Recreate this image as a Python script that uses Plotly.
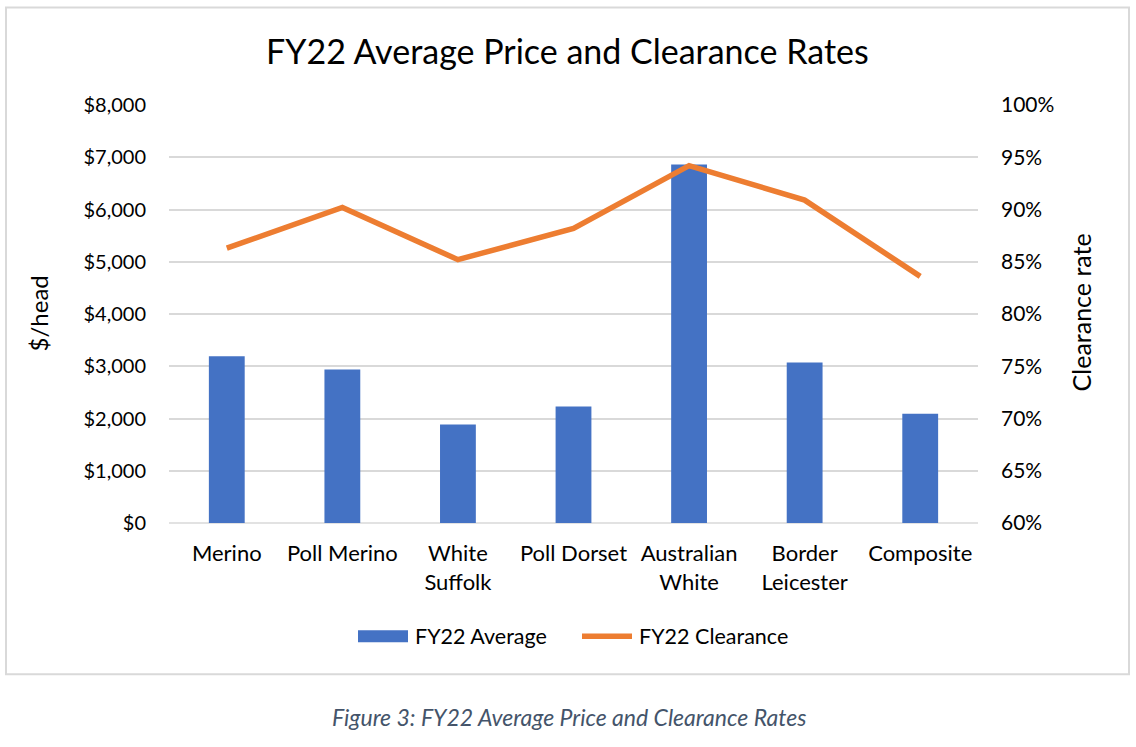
import plotly.graph_objects as go

categories = ["Merino", "Poll Merino", "White<br>Suffolk", "Poll Dorset",
              "Australian<br>White", "Border<br>Leicester", "Composite"]
avg_price = [3190, 2940, 1885, 2230, 6860, 3070, 2090]
clearance = [0.863, 0.902, 0.852, 0.882, 0.942, 0.909, 0.836]

W, H = 1136, 747
L, R, T, B = 169, 978, 104.5, 522.7

FONT = "Lato, Carlito, 'Open Sans', sans-serif"
BLUE = "#4472c4"
ORANGE = "#ed7d31"
GRID = "#d9d9d9"

fig = go.Figure()
fig.add_trace(go.Bar(x=categories, y=avg_price, name="FY22 Average",
                     marker=dict(color=BLUE, line=dict(width=0)), width=0.31,
                     yaxis="y", showlegend=False))
fig.add_trace(go.Scatter(x=categories, y=clearance, name="FY22 Clearance",
                         mode="lines", line=dict(color=ORANGE, width=5.5),
                         yaxis="y2", showlegend=False))

def px2x(px):
    return (px - L) / (R - L)

def py2y(py):
    return (B - py) / (B - T)

fig.update_layout(
    width=W, height=H,
    margin=dict(l=L, r=W - R, t=T, b=H - B, pad=0),
    paper_bgcolor="white", plot_bgcolor="white",
    font=dict(family=FONT, size=20, color="#000000"),
    showlegend=False,
    xaxis=dict(showgrid=False, showline=False, zeroline=False, ticks="",
               tickfont=dict(size=22, color="#000000"), ticklabelstandoff=15,
               fixedrange=True),
    yaxis=dict(range=[0, 8000], dtick=1000, tickprefix="$", tickformat=",",
               showgrid=True, gridcolor=GRID, gridwidth=1.5, zeroline=False,
               showline=False, ticks="", ticklabelstandoff=22,
               tickfont=dict(size=20, color="#000000")),
    yaxis2=dict(range=[0.6, 1.0], dtick=0.05, tickformat=".0%", overlaying="y",
                side="right", showgrid=False, zeroline=False, showline=False,
                ticks="", ticklabelstandoff=22,
                tickfont=dict(size=21, color="#000000")),
    shapes=[
        dict(type="rect", xref="paper", yref="paper",
             x0=px2x(6), x1=px2x(1129), y0=py2y(674), y1=py2y(7),
             line=dict(color=GRID, width=2), fillcolor="rgba(0,0,0,0)", layer="below"),
        dict(type="line", xref="paper", yref="paper", x0=0, x1=1, y0=0, y1=0,
             line=dict(color=GRID, width=1.5), layer="below"),
        # legend keys
        dict(type="rect", xref="paper", yref="paper",
             x0=px2x(358), x1=px2x(408), y0=py2y(642), y1=py2y(630),
             line=dict(width=0), fillcolor=BLUE),
        dict(type="line", xref="paper", yref="paper",
             x0=px2x(582), x1=px2x(632), y0=py2y(636), y1=py2y(636),
             line=dict(color=ORANGE, width=5.5)),
    ],
    annotations=[
        dict(text="FY22 Average Price and Clearance Rates", xref="paper", yref="paper",
             x=px2x(567), y=py2y(50), xanchor="center", yanchor="middle",
             showarrow=False, font=dict(size=34, color="#000000")),
        dict(text="$/head", xref="paper", yref="paper", x=px2x(38), y=py2y(313),
             xanchor="center", yanchor="middle", textangle=-90, showarrow=False,
             font=dict(size=24, color="#000000")),
        dict(text="Clearance rate", xref="paper", yref="paper", x=px2x(1081), y=py2y(312),
             xanchor="center", yanchor="middle", textangle=-90, showarrow=False,
             font=dict(size=25, color="#000000")),
        dict(text="FY22 Average", xref="paper", yref="paper", x=px2x(413), y=py2y(636),
             xanchor="left", yanchor="middle", showarrow=False,
             font=dict(size=21.5, color="#000000")),
        dict(text="FY22 Clearance", xref="paper", yref="paper", x=px2x(637), y=py2y(636),
             xanchor="left", yanchor="middle", showarrow=False,
             font=dict(size=21.5, color="#000000")),
        dict(text="<i>Figure 3: FY22 Average Price and Clearance Rates</i>",
             xref="paper", yref="paper", x=px2x(569), y=py2y(717),
             xanchor="center", yanchor="middle", showarrow=False,
             font=dict(size=23, color="#44546a")),
    ],
)

fig.write_html(
    "out.html",
    config={"displayModeBar": False},
    post_script="document.body.style.margin='0';document.body.style.overflow='hidden';",
)
